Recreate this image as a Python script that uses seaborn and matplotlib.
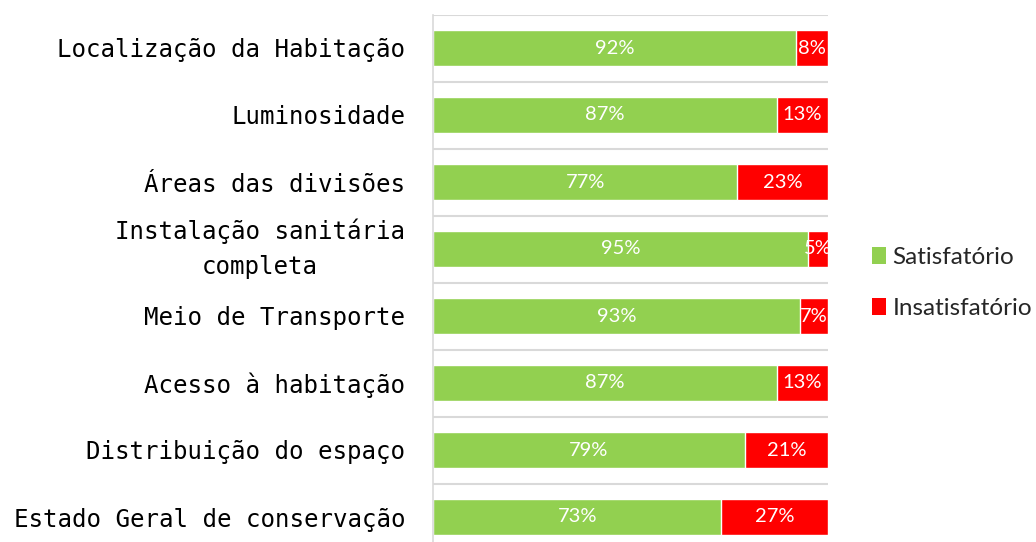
import matplotlib
matplotlib.use("Agg")
import matplotlib.pyplot as plt
import seaborn as sns
import pandas as pd
import numpy as np
from matplotlib.patches import Patch

categories = [
    "Localização da Habitação",
    "Luminosidade",
    "Áreas das divisões",
    "Instalação sanitária\ncompleta",
    "Meio de Transporte",
    "Acesso à habitação",
    "Distribuição do espaço",
    "Estado Geral de conservação",
]
satisfatorio = [92, 87, 77, 95, 93, 87, 79, 73]
insatisfatorio = [8, 13, 23, 5, 7, 13, 21, 27]
series_names = ["Satisfatório", "Insatisfatório"]
colors = ["#92D050", "#FF0000"]

sns.set_theme(style="white")
plt.rcParams["font.family"] = ["DejaVu Sans"]

df = pd.DataFrame({"categoria": categories, "sat": satisfatorio, "ins": insatisfatorio})
df["total"] = df["sat"] + df["ins"]

W, H = 1036, 542
fig = plt.figure(figsize=(W / 100, H / 100), dpi=100)
ax = fig.add_axes([433 / W, (H - 550.5) / H, 395 / W, 536 / H])

# stacked bars: full total in red, satisfied share in green on top
sns.barplot(data=df, y="categoria", x="total", color=colors[1], orient="h",
            width=0.55, saturation=1, ax=ax)
sns.barplot(data=df, y="categoria", x="sat", color=colors[0], orient="h",
            width=0.55, saturation=1, ax=ax)

label_font = {"family": ["Lato", "DejaVu Sans"], "size": 14.5}
for i, (s, n) in enumerate(zip(satisfatorio, insatisfatorio)):
    ax.text(s / 2, i, f"{s}%", ha="center", va="center", color="white", **label_font)
    ax.text(s + n / 2, i, f"{n}%", ha="center", va="center", color="white", **label_font)

ax.set_xlim(0, 100)
ax.set_ylim(7.5, -0.5)
ax.set_xlabel("")
ax.set_ylabel("")
ax.set_xticks([])

ax.set_yticks(np.arange(-0.5, 8, 1), minor=True)
ax.grid(axis="y", which="minor", color="#D9D9D9", linewidth=1.5)
ax.grid(axis="y", which="major", visible=False)
ax.set_axisbelow(True)
ax.tick_params(axis="y", which="both", length=0)
ax.tick_params(axis="y", which="major", pad=20, labelsize=17.4, labelcolor="#000000")
for tick in ax.yaxis.get_major_ticks():
    lbl = tick.label1
    lbl.set_multialignment("center")
    lbl.set_family(["DejaVu Sans Mono", "DejaVu Sans"])
    lbl.set_linespacing(1.6)
    if "\n" in lbl.get_text():
        # two-line label: center the whole block on its bar
        lbl.set_verticalalignment("center")

for side in ["top", "right", "bottom"]:
    ax.spines[side].set_visible(False)
ax.spines["left"].set_color("#D9D9D9")
ax.spines["left"].set_linewidth(1.2)

handles = [Patch(facecolor=c, edgecolor="none", label=n) for c, n in zip(colors, series_names)]
fig.legend(handles=handles, loc="center left", bbox_to_anchor=(867 / W, 1 - 283 / H),
           frameon=False, handlelength=0.6, handleheight=0.7, handletextpad=0.25,
           labelspacing=1.2, borderaxespad=0, borderpad=0.2,
           prop={"family": ["Lato", "DejaVu Sans"], "size": 17.5})

fig.savefig("out.png", dpi=100)
